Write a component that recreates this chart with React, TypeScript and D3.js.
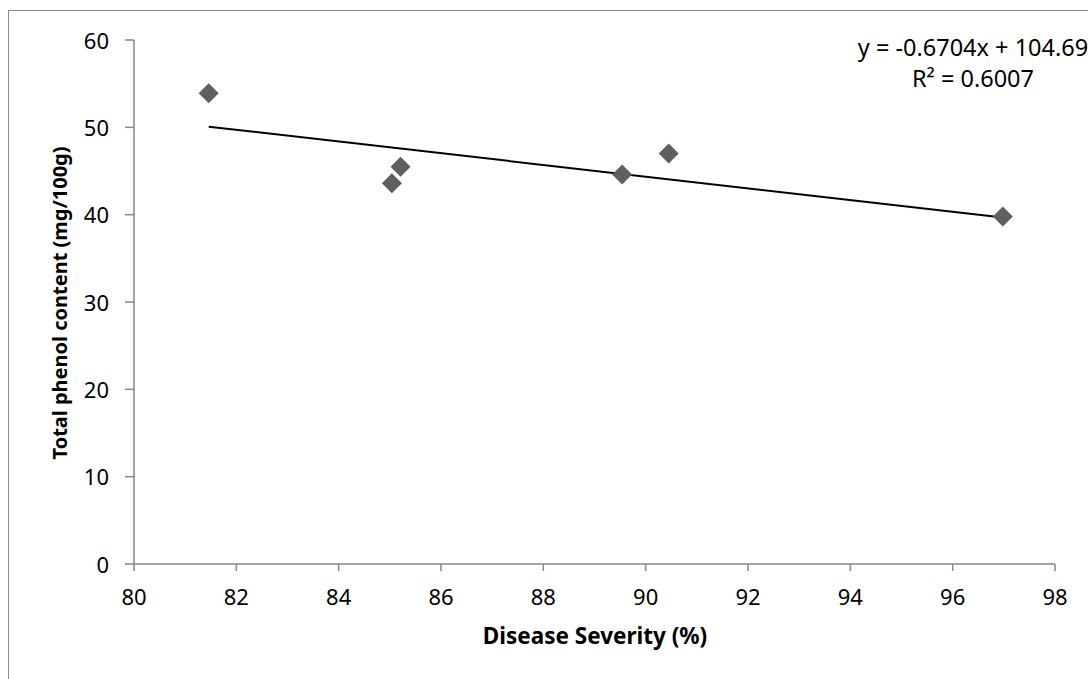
import React from "react";
import * as d3 from "d3";

const severity = [81.46, 85.04, 85.21, 89.54, 90.45, 96.98];
const phenol = [53.9, 43.6, 45.5, 44.6, 47.0, 39.8];
const xTicks = [80, 82, 84, 86, 88, 90, 92, 94, 96, 98];
const yTicks = [0, 10, 20, 30, 40, 50, 60];
const slope = -0.6704;
const intercept = 104.69;
const eqText = "y = -0.6704x + 104.69";
const r2Value = "0.6007";
const xTitle = "Disease Severity (%)";
const yTitle = "Total phenol content (mg/100g)";

const FONT = "'Noto Sans', 'Open Sans', sans-serif";
const AXIS = "#868686";

export default function App() {
  const x = d3.scaleLinear().domain([80, 98]).range([134, 1055]);
  const y = d3.scaleLinear().domain([0, 60]).range([564, 40]);
  const pts = severity.map((s, i) => ({ s, p: phenol[i] }));
  const [xmin, xmax] = d3.extent(severity) as [number, number];
  const line = d3
    .line<number>()
    .x((d) => x(d))
    .y((d) => y(slope * d + intercept));
  const diamond = d3.symbol().type(d3.symbolSquare).size(200)();

  return (
    <svg
      width={1088}
      height={679}
      style={{ position: "absolute", left: 0, top: 0, overflow: "hidden", background: "#fff" }}
      fontFamily={FONT}
    >
      <rect x={8.5} y={10.5} width={1200} height={800} fill="#fff" stroke="#8c8c8c" strokeWidth={1} />
      {/* y axis */}
      <line x1={x(80)} x2={x(80)} y1={y(0)} y2={y(60)} stroke={AXIS} strokeWidth={1.5} />
      {yTicks.map((t) => (
        <g key={"y" + t}>
          <line x1={x(80) - 9} x2={x(80)} y1={y(t)} y2={y(t)} stroke={AXIS} strokeWidth={1.5} />
          <text x={109} y={y(t) + 8.5} textAnchor="end" fontSize={22} fill="#000">
            {t}
          </text>
        </g>
      ))}
      {/* x axis */}
      <line x1={x(80)} x2={x(98)} y1={y(0)} y2={y(0)} stroke={AXIS} strokeWidth={1.5} />
      {xTicks.map((t) => (
        <g key={"x" + t}>
          <line x1={x(t)} x2={x(t)} y1={y(0)} y2={y(0) + 7} stroke={AXIS} strokeWidth={1.5} />
          <text x={x(t)} y={605} textAnchor="middle" fontSize={22} fill="#000">
            {t}
          </text>
        </g>
      ))}
      {/* trendline */}
      <path d={line([xmin, xmax]) || ""} fill="none" stroke="#000" strokeWidth={2} />
      {/* points */}
      {pts.map((d, i) => (
        <path
          key={i}
          d={diamond || ""}
          transform={`translate(${x(d.s)},${y(d.p)}) rotate(45)`}
          fill="#5f5f5f"
        />
      ))}
      {/* equation */}
      <text x={973} y={56} textAnchor="middle" fontSize={23.5} fill="#000">
        {eqText}
      </text>
      <text x={973} y={87} textAnchor="middle" fontSize={23.5} fill="#000">
        R² = {r2Value}
      </text>
      {/* titles */}
      <text x={595} y={644} textAnchor="middle" fontSize={22.5} fontWeight="bold" fill="#000">
        {xTitle}
      </text>
      <text
        transform={`translate(67,303) rotate(-90)`}
        textAnchor="middle"
        fontSize={20}
        fontWeight="bold"
        fill="#000"
      >
        {yTitle}
      </text>
    </svg>
  );
}
